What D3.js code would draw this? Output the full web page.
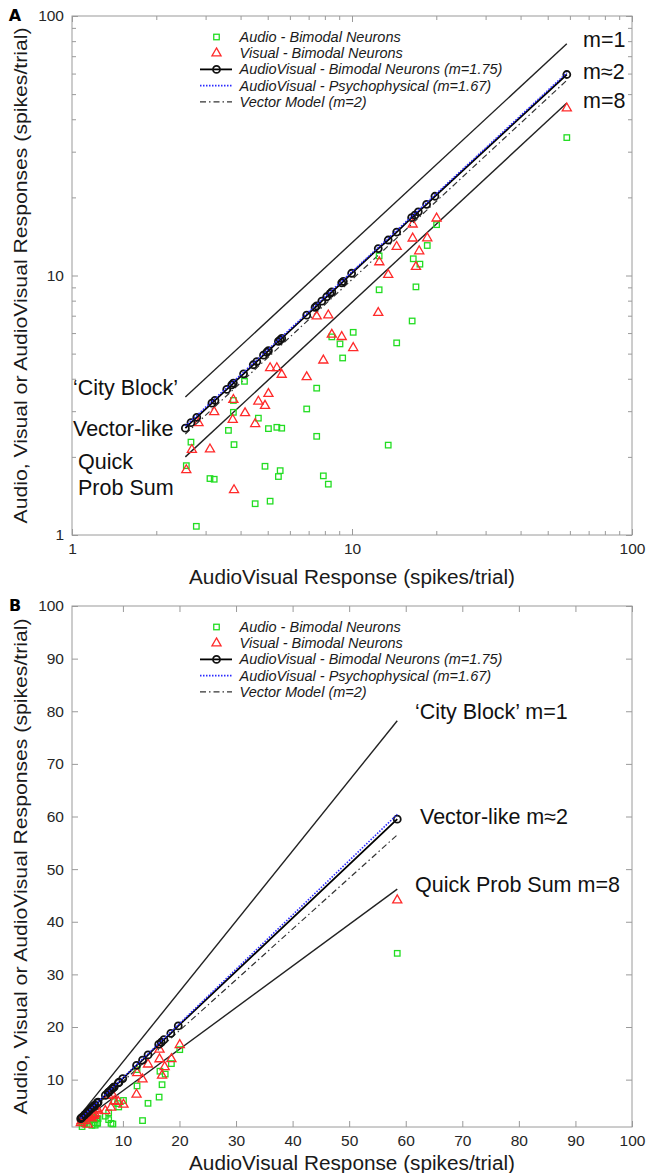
<!DOCTYPE html>
<html><head><meta charset="utf-8">
<script src="https://cdn.jsdelivr.net/npm/d3@7"></script>
<style>
body{margin:0;background:#fff;}
text{font-family:"Liberation Sans",Arial,Helvetica,sans-serif;}
</style></head><body>
<svg id="c" width="647" height="1173"></svg>
<script>
// ---- data ----
const avX=[2.54,2.66,2.79,3.16,3.24,3.57,3.72,3.77,4.10,4.44,4.57,4.83,4.96,5.03,5.46,5.54,5.61,6.89,7.38,7.48,7.80,8.12,8.35,8.47,9.19,9.31,9.97,12.41,13.47,14.44,16.33,16.78,17.25,18.47,19.78,58.5];
const avY=[2.58,2.71,2.84,3.22,3.30,3.64,3.79,3.85,4.18,4.53,4.66,4.93,5.06,5.13,5.57,5.65,5.72,7.03,7.53,7.63,7.96,8.28,8.52,8.64,9.37,9.50,10.2,12.7,13.7,14.7,16.7,17.1,17.6,18.8,20.2,59.5];
const audioX=[2.56,2.66,2.78,3.11,3.22,3.62,3.77,3.77,3.79,4.13,4.51,4.63,4.89,5.03,5.10,5.39,5.46,5.54,5.61,6.89,7.48,7.48,7.90,8.23,8.47,9.06,9.26,10.1,12.5,12.5,13.47,14.44,16.4,16.55,16.92,17.48,18.57,20.05,58.5];
const audioY=[1.85,2.28,1.08,1.65,1.64,2.53,2.97,3.30,2.23,3.91,1.32,2.82,1.84,2.57,1.35,2.60,1.68,1.77,2.58,3.06,3.68,2.40,1.69,1.57,5.80,5.45,4.81,6.04,8.81,11.9,2.22,5.50,6.68,11.6,9.04,11.06,13.05,15.7,34.0];
const visualX=[2.56,2.68,2.83,3.11,3.22,3.75,3.77,3.79,4.15,4.51,4.63,4.89,5.03,5.10,5.39,5.61,6.89,7.48,7.90,8.23,8.47,9.19,10.1,12.41,12.52,13.47,14.44,16.47,16.47,16.92,17.38,18.57,20.05,58.5];
const visualY=[1.78,2.13,2.70,2.14,2.98,2.78,3.32,1.49,2.95,2.68,3.27,3.15,3.50,4.40,4.40,4.15,4.06,6.96,4.71,7.03,5.92,5.80,5.26,7.18,11.26,10.06,12.9,15.74,13.9,10.8,12.41,13.93,16.6,44.1];
const modelX=[2.54,58.5];
const cityBlockY=[3.40,78.2];
const quickSumY=[2.0,46.2];
const psychoY=[2.63,60.4];
const vectorY=[2.45,56.5];
const legendLabels=["Audio - Bimodal Neurons","Visual - Bimodal Neurons","AudioVisual - Bimodal Neurons (m=1.75)","AudioVisual - Psychophysical (m=1.67)","Vector Model (m=2)"];
const logMajor=[1,10,100];
const logMinor=[2,3,4,5,6,7,8,9,20,30,40,50,60,70,80,90];
const linTicks=[10,20,30,40,50,60,70,80,90,100];
const xTitle="AudioVisual Response (spikes/trial)";
const yTitle="Audio, Visual or AudioVisual Responses (spikes/trial)";

const svg=d3.select("#c");
const GREEN="#22dd22", RED="#ff2a2a", BOX="#9a9a9a", TICKTXT="#262626";

function zip(xs,ys){return xs.map((v,i)=>[v,ys[i]]);}

function panel(cfg){
  const {top,bottom,left,right,log,letter,annots,legendTop,titleGap}=cfg;
  const g=svg.append("g");
  let x,y;
  if(log){
    x=d3.scaleLog().domain([1,100]).range([left,right]);
    y=d3.scaleLog().domain([1,100]).range([bottom,top]);
  } else {
    x=d3.scaleLinear().domain([1,100]).range([left,right]);
    y=d3.scaleLinear().domain([1,100]).range([bottom,top]);
  }
  const fmt=d=>String(d);
  const major=log?logMajor:linTicks;
  const mk=(axisFn,scale,vals,size,labels)=>axisFn(scale).tickValues(vals).tickSize(-size).tickPadding(labels?8:0).tickFormat(labels?fmt:"");
  g.append("g").attr("transform",`translate(0,${bottom})`).call(mk(d3.axisBottom,x,major,6,true));
  g.append("g").attr("transform",`translate(${left},0)`).call(mk(d3.axisLeft,y,major,6,true));
  g.append("g").attr("transform",`translate(0,${top})`).call(mk(d3.axisTop,x,major,6,false));
  g.append("g").attr("transform",`translate(${right},0)`).call(mk(d3.axisRight,y,major,6,false));
  if(log){
    g.append("g").attr("transform",`translate(0,${bottom})`).call(mk(d3.axisBottom,x,logMinor,4,false));
    g.append("g").attr("transform",`translate(${left},0)`).call(mk(d3.axisLeft,y,logMinor,4,false));
    g.append("g").attr("transform",`translate(0,${top})`).call(mk(d3.axisTop,x,logMinor,4,false));
    g.append("g").attr("transform",`translate(${right},0)`).call(mk(d3.axisRight,y,logMinor,4,false));
  }
  g.selectAll(".domain").remove();
  g.selectAll(".tick line").attr("stroke",BOX).attr("stroke-width",1);
  g.selectAll(".tick text").attr("fill",TICKTXT).style("font-size","15.5px").style("font-family","'Liberation Sans',Arial,sans-serif");
  g.append("rect").attr("x",left).attr("y",top).attr("width",right-left).attr("height",bottom-top)
    .attr("fill","none").attr("stroke",BOX).attr("stroke-width",1);
  // titles
  g.append("text").attr("x",(left+right)/2).attr("y",bottom+titleGap).attr("text-anchor","middle")
    .attr("dominant-baseline","central").style("font-size","19.5px").attr("fill","#1a1a1a")
    .attr("textLength",326).attr("lengthAdjust","spacingAndGlyphs").text(xTitle);
  g.append("text").attr("transform",`translate(21,${(top+bottom)/2}) rotate(-90)`).attr("text-anchor","middle")
    .attr("dominant-baseline","central").style("font-size","17.5px").attr("fill","#1a1a1a")
    .attr("textLength",496).attr("lengthAdjust","spacingAndGlyphs").text(yTitle);
  g.append("text").attr("x",15).attr("y",top-1).attr("dominant-baseline","central").attr("text-anchor","middle")
    .style("font-size","16px").style("font-weight","bold").style("font-family","'DejaVu Sans',sans-serif").text(letter);

  const line=d3.line().x(d=>x(d[0])).y(d=>y(d[1]));
  g.append("path").datum(zip(modelX,cityBlockY)).attr("d",line).attr("fill","none").attr("stroke","#222").attr("stroke-width",1.4);
  g.append("path").datum(zip(modelX,quickSumY)).attr("d",line).attr("fill","none").attr("stroke","#222").attr("stroke-width",1.4);
  g.append("path").datum(zip(modelX,vectorY)).attr("d",line).attr("fill","none").attr("stroke","#333").attr("stroke-width",1.2).attr("stroke-dasharray","6,3,1.5,3");
  const sq=5.5, tri=d3.symbol().type(d3.symbolTriangle).size(36)();
  g.append("g").selectAll("rect").data(zip(audioX,audioY)).join("rect")
    .attr("x",d=>x(d[0])-sq/2).attr("y",d=>y(d[1])-sq/2).attr("width",sq).attr("height",sq)
    .attr("fill","none").attr("stroke",GREEN).attr("stroke-width",1.3);
  g.append("g").selectAll("path").data(zip(visualX,visualY)).join("path")
    .attr("d",tri).attr("transform",d=>`translate(${x(d[0])},${y(d[1])})`)
    .attr("fill","none").attr("stroke",RED).attr("stroke-width",1.3);
  const av=zip(avX,avY);
  g.append("path").datum(av).attr("d",line).attr("fill","none").attr("stroke","#000").attr("stroke-width",1.8);
  g.append("g").selectAll("circle").data(av).join("circle")
    .attr("cx",d=>x(d[0])).attr("cy",d=>y(d[1])).attr("r",3.5)
    .attr("fill","none").attr("stroke","#111").attr("stroke-width",1.8);
  g.append("path").datum(zip(modelX,psychoY)).attr("d",line).attr("fill","none").attr("stroke","#2b2bff").attr("stroke-width",1.6).attr("stroke-dasharray","1.5,1.5");
  annots.forEach(a=>{
    g.append("text").attr("x",a.x).attr("y",a.y).attr("dominant-baseline","central")
      .style("font-size","21.5px").attr("fill","#111").text(a.t);
  });
  const lx0=200,lx1=232,lmx=216.5,ltx=239.5,dy=16.2;
  legendLabels.forEach((t,i)=>{
    const ly=legendTop+i*dy;
    g.append("text").attr("x",ltx).attr("y",ly).attr("dominant-baseline","central")
      .style("font-size","14.5px").style("font-style","italic").attr("fill","#1a1a1a").text(t);
    if(i===0) g.append("rect").attr("x",lmx-sq/2).attr("y",ly-sq/2).attr("width",sq).attr("height",sq).attr("fill","none").attr("stroke",GREEN).attr("stroke-width",1.3);
    if(i===1) g.append("path").attr("d",tri).attr("transform",`translate(${lmx},${ly})`).attr("fill","none").attr("stroke",RED).attr("stroke-width",1.3);
    if(i===2){
      g.append("line").attr("x1",lx0).attr("x2",lx1).attr("y1",ly).attr("y2",ly).attr("stroke","#000").attr("stroke-width",1.8);
      g.append("circle").attr("cx",lmx).attr("cy",ly).attr("r",3.5).attr("fill","none").attr("stroke","#111").attr("stroke-width",1.8);
    }
    if(i===3) g.append("line").attr("x1",lx0).attr("x2",lx1).attr("y1",ly).attr("y2",ly).attr("stroke","#2b2bff").attr("stroke-width",1.6).attr("stroke-dasharray","1.5,1.5");
    if(i===4) g.append("line").attr("x1",lx0).attr("x2",lx1).attr("y1",ly).attr("y2",ly).attr("stroke","#333").attr("stroke-width",1.2).attr("stroke-dasharray","6,3,1.5,3");
  });
}

panel({top:16,bottom:535,left:72,right:632,log:true,letter:"A",legendTop:37,titleGap:42,
  annots:[{x:583,y:40,t:"m=1"},{x:583,y:72,t:"m≈2"},{x:583,y:101,t:"m=8"},
          {x:73,y:388,t:"‘City Block’"},{x:73,y:429,t:"Vector-like"},{x:78,y:462,t:"Quick"},{x:78,y:488,t:"Prob Sum"}]});
panel({top:606,bottom:1127,left:72,right:632,log:false,letter:"B",legendTop:627,titleGap:36,
  annots:[{x:415,y:712,t:"‘City Block’ m=1"},{x:420,y:817,t:"Vector-like m≈2"},{x:415,y:885,t:"Quick Prob Sum m=8"}]});
</script>
</body></html>
